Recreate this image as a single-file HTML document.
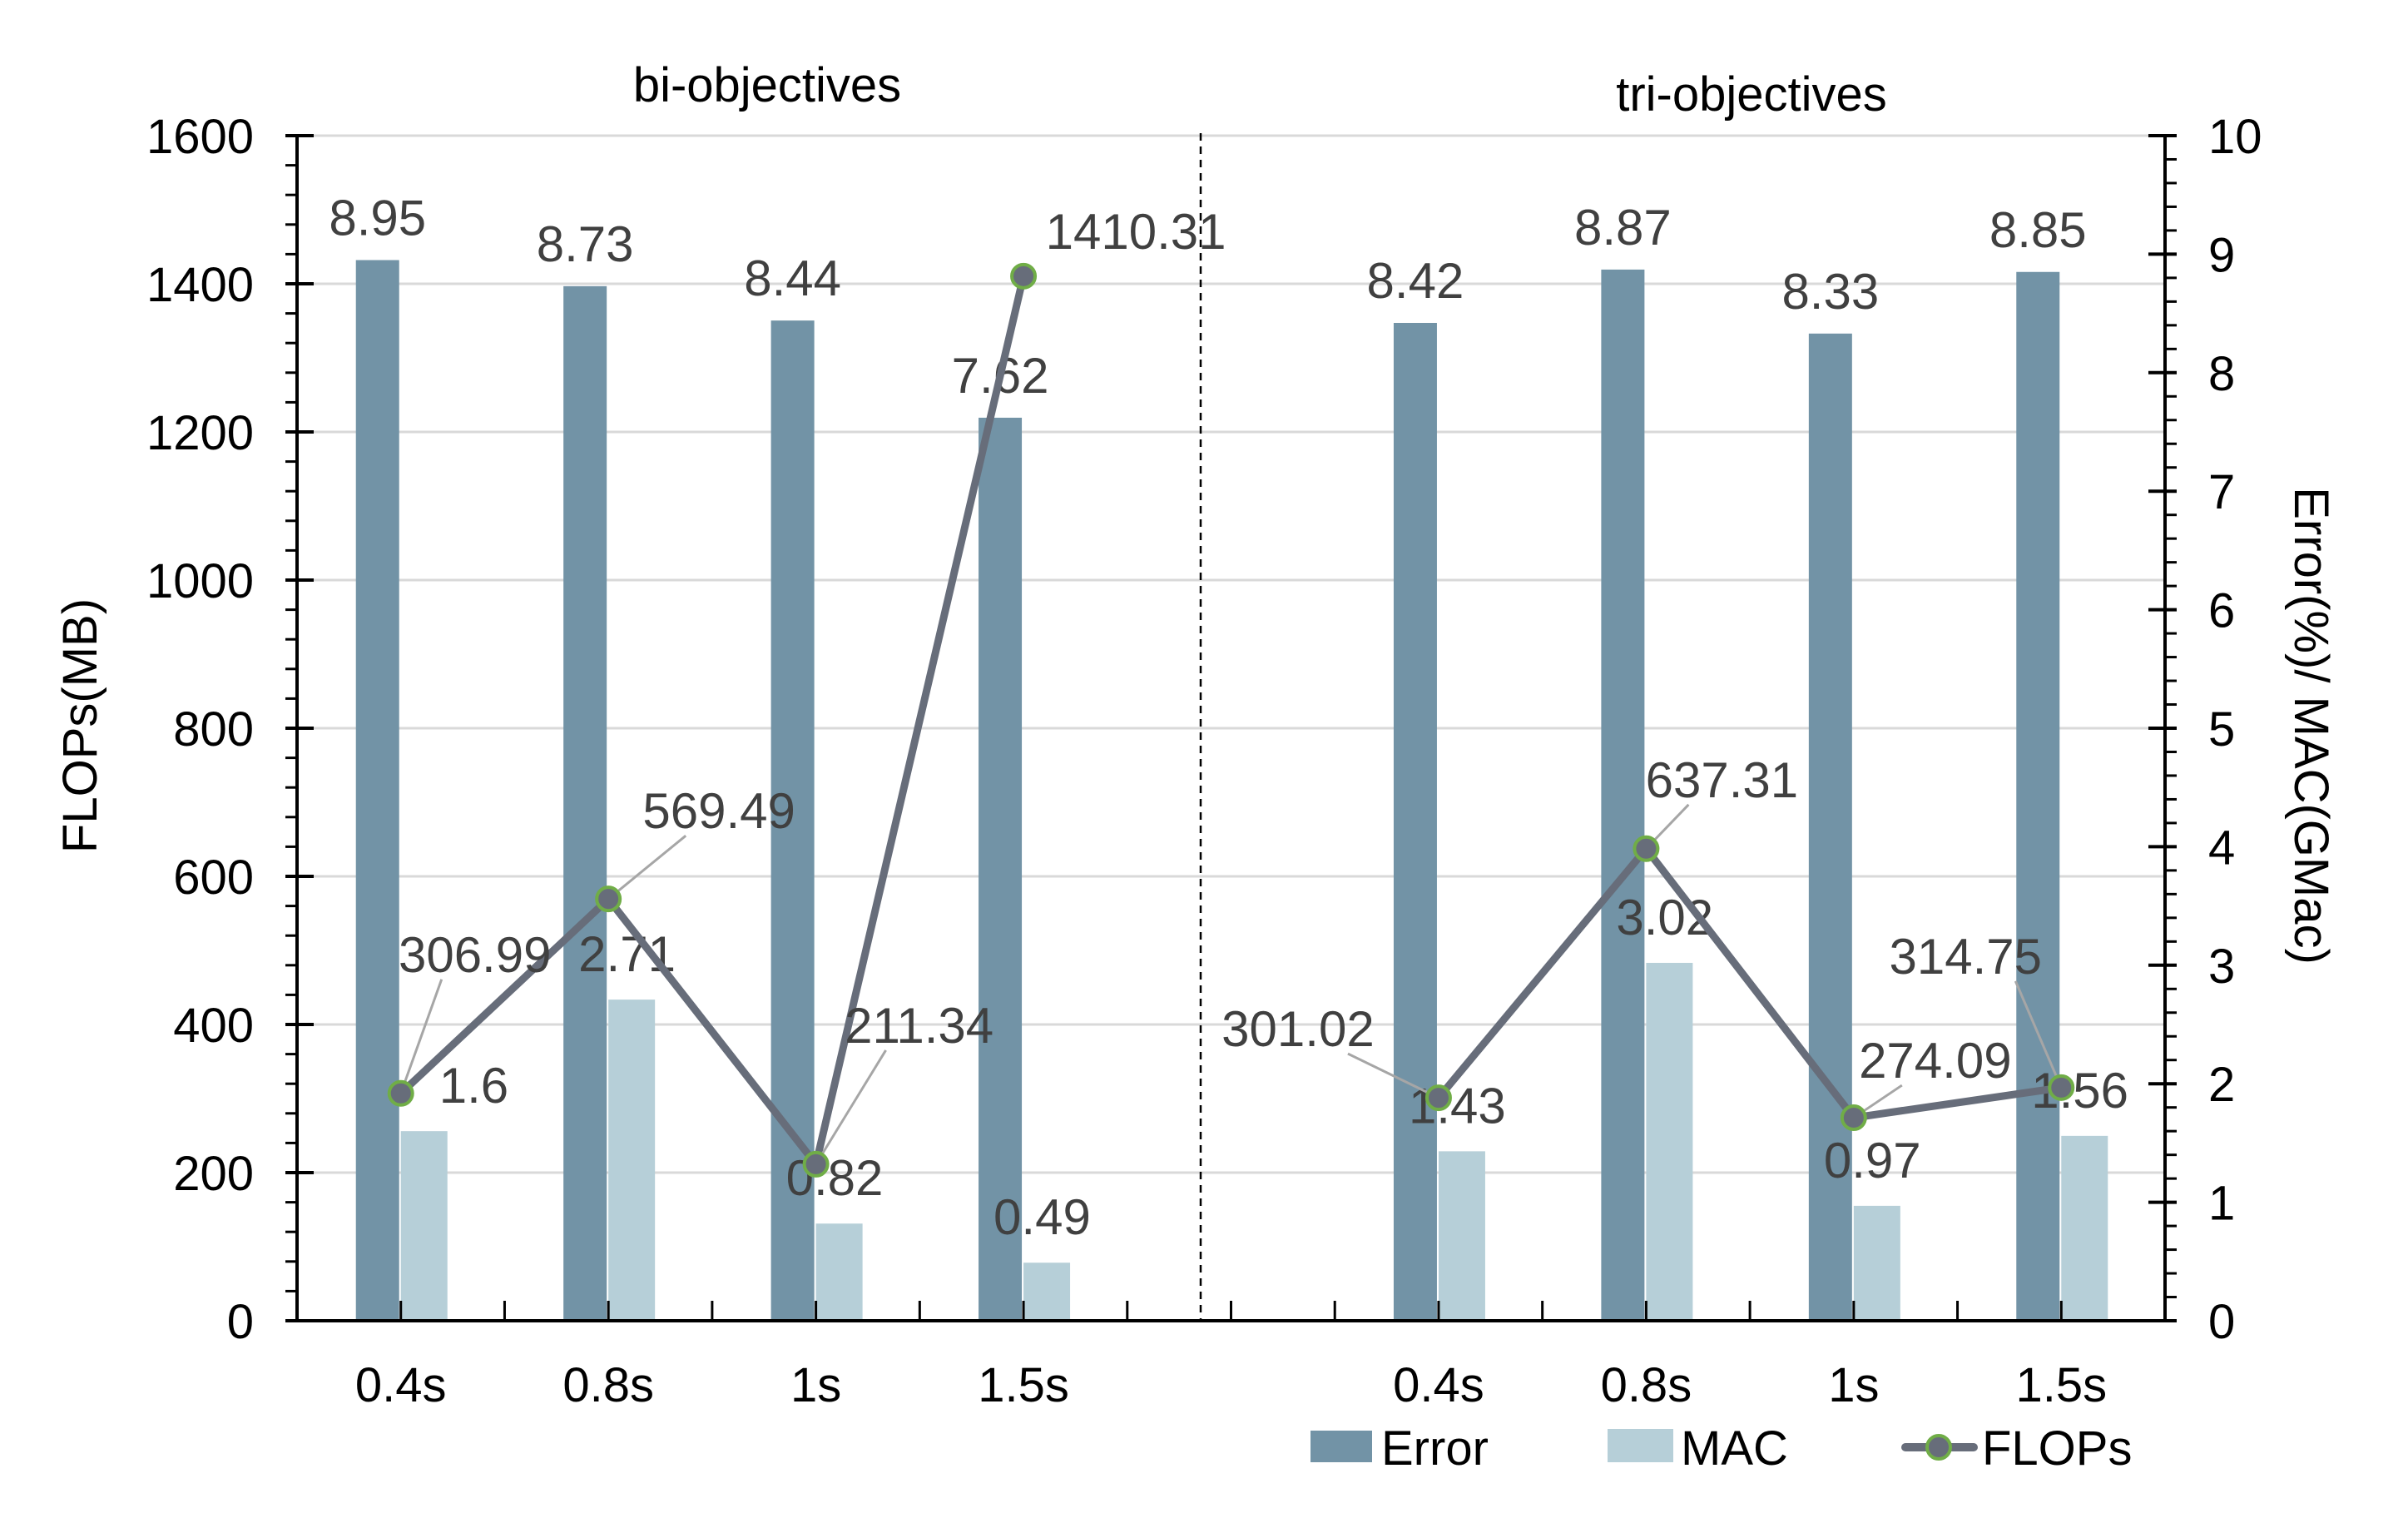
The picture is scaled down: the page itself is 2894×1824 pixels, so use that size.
<!DOCTYPE html>
<html><head><meta charset="utf-8"><style>
html,body{margin:0;padding:0;background:#fff}
svg{display:block;font-family:"Liberation Sans",Arial,sans-serif}
</style></head><body>
<svg id="chart" width="2894" height="1824" viewBox="0 0 2894 1824" xmlns="http://www.w3.org/2000/svg"></svg>
<script>
const categories = ["0.4s","0.8s","1s","1.5s","","0.4s","0.8s","1s","1.5s"];
const groups = ["bi","bi","bi","bi","none","tri","tri","tri","tri"];
const errorValues = [8.95,8.73,8.44,7.62,null,8.42,8.87,8.33,8.85];
const macValues = [1.6,2.71,0.82,0.49,null,1.43,3.02,0.97,1.56];
const flopsValues = [306.99,569.49,211.34,1410.31,null,301.02,637.31,274.09,314.75];
const errorLabels = ["8.95","8.73","8.44","7.62","","8.42","8.87","8.33","8.85"];
const macLabels = ["1.6","2.71","0.82","0.49","","1.43","3.02","0.97","1.56"];
const flopsLabels = ["306.99","569.49","211.34","1410.31","","301.02","637.31","274.09","314.75"];
const leftTicks = [0,200,400,600,800,1000,1200,1400,1600];
const rightTicks = [0,1,2,3,4,5,6,7,8,9,10];

const svg = document.getElementById('chart');
const NS = 'http://www.w3.org/2000/svg';
const X0 = 357, X1 = 2602, Y0 = 1587, Y1 = 163;
const slotW = (X1 - X0) / categories.length;
function xc(i){ return X0 + slotW*(i+0.5); }
function yL(v){ return Y0 - (v/1600)*(Y0-Y1); }
function yR(v){ return Y0 - (v/10)*(Y0-Y1); }
function mk(tag, attrs, parent){
  const e = document.createElementNS(NS, tag);
  for (const k in attrs) e.setAttribute(k, attrs[k]);
  (parent||svg).appendChild(e);
  return e;
}
function txt(s, attrs, parent){ const t = mk('text', attrs, parent); t.textContent = s; return t; }

for (const v of leftTicks) {
  if (v === 0) continue;
  const g = mk('line', {x1:X0, x2:X1, y1:yL(v), y2:yL(v), stroke:'#d9d9d9', 'stroke-width':3});
  
  
}
categories.forEach((c,i)=>{
  if (errorValues[i] == null) return;
  const cx = xc(i);
  const eTop = yR(errorValues[i]);
  const b = mk('rect', {x:cx-54, y:eTop, width:52, height:Y0-eTop, fill:'#7293a6'});
  
  
  const mTop = yR(macValues[i]);
  const m = mk('rect', {x:cx, y:mTop, width:56, height:Y0-mTop, fill:'#b6cfd8'});
  
  
  const el = txt(errorLabels[i], {x:cx-28, y:eTop-30, 'font-size':60, fill:'#404040', 'text-anchor':'middle'});
  
  
  const mx = (i===0) ? cx+46 : cx-36;
  const ml = txt(macLabels[i], {x:mx, y:mTop-34, 'font-size':60, fill:'#404040'});
  
  
});
const dv = mk('line', {x1:1443, x2:1443, y1:160, y2:Y0, stroke:'#000', 'stroke-width':2.5, 'stroke-dasharray':'9,7'});



const offs = [[89,-167],[133,-106],[124,-167],[135,-54],null,[-169,-83],[91,-83],[98,-69],[-115,-158]];
for (const grp of ['bi','tri']) {
  const pts = [];
  categories.forEach((c,i)=>{ if (groups[i]===grp) pts.push(xc(i)+','+yL(flopsValues[i])); });
  const pl = mk('polyline', {points:pts.join(' '), fill:'none', stroke:'#676d7a', 'stroke-width':9, 'stroke-linejoin':'round'});
  
  
}
categories.forEach((c,i)=>{
  if (flopsValues[i] == null) return;
  const px = xc(i), py = yL(flopsValues[i]);
  const o = offs[i];
  const lx = px + o[0], ly = py + o[1];
  if (i !== 3) {
    const ld = mk('line', {x1:px, y1:py, x2:lx + (o[0]>0?-40:60), y2:ly+30, stroke:'#a6a6a6', 'stroke-width':3});
    
    
  }
  const p = mk('circle', {cx:px, cy:py, r:14, fill:'#676d7a', stroke:'#70ad47', 'stroke-width':4});
  
  
  const fl = txt(flopsLabels[i], {x:lx, y:ly+21, 'font-size':60, fill:'#404040', 'text-anchor':'middle'});
  
  
});

const ax = mk('g', {stroke:'#000', 'stroke-width':4});


mk('line', {x1:X0, x2:X0, y1:Y1, y2:Y0+2}, ax);
mk('line', {x1:X1, x2:X1, y1:Y1, y2:Y0+2}, ax);
mk('line', {x1:X0-14, x2:X1+14, y1:Y0, y2:Y0}, ax);
for (let v=0; v<=1600; v+=40) {
  const major = v % 200 === 0;
  mk('line', {x1:X0-14, x2:major?X0+20:X0, y1:yL(v), y2:yL(v), 'stroke-width':major?4:3}, ax);
}
for (let v=0; v<=10.001; v+=0.2) {
  const major = Math.abs(v-Math.round(v))<0.01;
  mk('line', {x1:major?X1-20:X1, x2:X1+14, y1:yR(v), y2:yR(v), 'stroke-width':major?4:3}, ax);
}
for (let i=0;i<=categories.length*2;i++){
  const x = X0 + slotW*i/2;
  mk('line', {x1:x, x2:x, y1:Y0, y2:Y0-24, 'stroke-width':3}, ax);
}
leftTicks.forEach(v=>{
  const t = txt(String(v), {x:X0-52, y:yL(v)+21, 'font-size':58, 'text-anchor':'end', fill:'#000'});
  
  
});
rightTicks.forEach(v=>{
  const t = txt(String(v), {x:X1+52, y:yR(v)+21, 'font-size':58, fill:'#000'});
  
  
});
categories.forEach((c,i)=>{
  if (!c) return;
  const t = txt(c, {x:xc(i), y:1684, 'font-size':58, 'text-anchor':'middle', fill:'#000'});
  
  
});
</script>
<script>
(function(){
  const svg = document.getElementById('chart');
  const NS='http://www.w3.org/2000/svg';
  function t(s, a){ const e=document.createElementNS(NS,'text'); for(const k in a) e.setAttribute(k,a[k]); e.textContent=s; svg.appendChild(e); return e; }
  function r(tag,a){ const e=document.createElementNS(NS,tag); for(const k in a) e.setAttribute(k,a[k]); svg.appendChild(e); return e; }
  let e;
  e = t('bi-objectives', {x:922, y:122, 'font-size':58, 'text-anchor':'middle'});
  
  
  e = t('tri-objectives', {x:2105, y:133, 'font-size':58, 'text-anchor':'middle'});
  
  
  e = t('FLOPs(MB)', {x:0, y:0, 'font-size':58, 'text-anchor':'middle', transform:'translate(116,872) rotate(-90)'});
  
  
  e = t('Error(%)/ MAC(GMac)', {x:0, y:0, 'font-size':58, 'text-anchor':'middle', transform:'translate(2758,872) rotate(90)'});
  
  
  e = r('rect', {x:1575, y:1719, width:74, height:38, fill:'#7293a6'});
  
  
  e = t('Error', {x:1660, y:1760, 'font-size':58});
  
  
  e = r('rect', {x:1932, y:1717, width:79, height:40, fill:'#b6cfd8'});
  
  
  e = t('MAC', {x:2020, y:1760, 'font-size':58});
  
  
  e = r('line', {x1:2290, x2:2372, y1:1739, y2:1739, stroke:'#676d7a', 'stroke-width':10, 'stroke-linecap':'round'});
  
  
  e = r('circle', {cx:2330, cy:1739, r:14, fill:'#676d7a', stroke:'#70ad47', 'stroke-width':4});
  
  
  e = t('FLOPs', {x:2382, y:1760, 'font-size':58});
  
  
})();
</script>
</body></html>
